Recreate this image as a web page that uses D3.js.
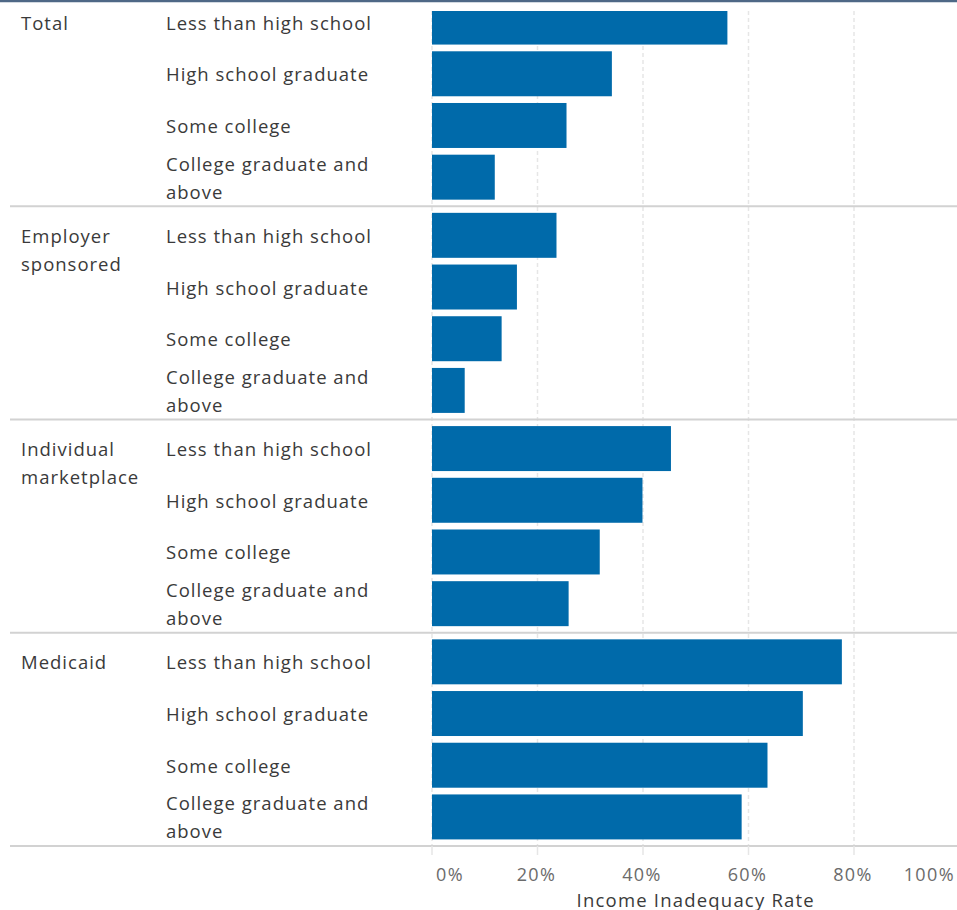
<!DOCTYPE html>
<html>
<head>
<meta charset="utf-8">
<script src="https://cdn.jsdelivr.net/npm/d3@7"></script>
<style>
  html, body { margin: 0; padding: 0; background: #fff; }
  svg { display: block; font-family: "Open Sans", "Noto Sans", sans-serif; }
</style>
</head>
<body>
<svg id="chart" width="957" height="910"></svg>
<script>
// Coverage groups, with label lines for wrapped names
const groups = ["Total", "Employer sponsored", "Individual marketplace", "Medicaid"];
const groupLines = [["Total"], ["Employer", "sponsored"], ["Individual", "marketplace"], ["Medicaid"]];

// Education levels, with label lines for wrapped names
const levels = ["Less than high school", "High school graduate", "Some college", "College graduate and above"];
const levelLines = [["Less than high school"], ["High school graduate"], ["Some college"], ["College graduate and", "above"]];

// Income inadequacy rate per group, in education-level order
const totalRates      = [0.560, 0.341, 0.255, 0.119];
const employerRates   = [0.236, 0.161, 0.132, 0.062];
const individualRates = [0.453, 0.399, 0.318, 0.259];
const medicaidRates   = [0.777, 0.703, 0.636, 0.587];

const xTicks = [0, 0.2, 0.4, 0.6, 0.8, 1.0];
const xTitle = "Income Inadequacy Rate";

const seriesByGroup = [totalRates, employerRates, individualRates, medicaidRates];
const rows = [];
groups.forEach((g, gi) => {
  levels.forEach((l, li) => rows.push({ group: g, level: l, value: seriesByGroup[gi][li] }));
});

const svg = d3.select("#chart");
const W = 957;

const plotTop = 11, plotBottom = 846;
const x = d3.scaleLinear().domain([0, 1]).range([432, 959.5]);
const yGroup = d3.scaleBand().domain(groups).range([-7, plotBottom]);
const yLevel = d3.scaleBand().domain(levels).range([0, yGroup.bandwidth()])
  .paddingInner(0.13).paddingOuter(0.1275);

const rowCenter = (g, l) => yGroup(g) + yLevel(l) + yLevel.bandwidth() / 2;

// Plot area clip
svg.append("defs").append("clipPath").attr("id", "plotClip")
  .append("rect").attr("x", 0).attr("y", plotTop).attr("width", W).attr("height", plotBottom - plotTop);

const plot = svg.append("g").attr("clip-path", "url(#plotClip)");

// Dashed vertical gridlines
plot.append("g").selectAll("line").data(xTicks.filter(t => x(t) < W))
  .join("line")
  .attr("x1", d => x(d)).attr("x2", d => x(d))
  .attr("y1", plotTop).attr("y2", plotBottom)
  .attr("stroke", "#e6e6e6").attr("stroke-width", 1.5)
  .attr("stroke-dasharray", "4,3");

// Bars
plot.append("g").selectAll("rect").data(rows)
  .join("rect")
  .attr("x", x(0))
  .attr("y", d => yGroup(d.group) + yLevel(d.level))
  .attr("width", d => x(d.value) - x(0))
  .attr("height", yLevel.bandwidth())
  .attr("fill", "#006aaa");

// Group separators
svg.append("g").selectAll("line").data(groups)
  .join("line")
  .attr("x1", 10).attr("x2", W)
  .attr("y1", g => yGroup(g) + yGroup.bandwidth())
  .attr("y2", g => yGroup(g) + yGroup.bandwidth())
  .attr("stroke", "#d2d2d2").attr("stroke-width", 2);

// Top border
svg.append("line").attr("x1", 0).attr("x2", W).attr("y1", 1).attr("y2", 1)
  .attr("stroke", "#4e6886").attr("stroke-width", 2.5);

const lineH = 28;
const textColor = "#3a3a3a";
const labelSize = 18.5, labelSpacing = 1.0;

// Group labels
const gl = svg.append("g").attr("font-size", labelSize).attr("fill", textColor).attr("letter-spacing", labelSpacing);
groups.forEach((g, gi) => {
  const cy = rowCenter(g, levels[0]);
  groupLines[gi].forEach((line, k) => {
    gl.append("text").attr("x", 21).attr("y", cy + k * lineH)
      .attr("dominant-baseline", "central").text(line);
  });
});

// Education level labels
const ll = svg.append("g").attr("font-size", labelSize).attr("fill", textColor).attr("letter-spacing", labelSpacing);
groups.forEach(g => {
  levels.forEach((l, li) => {
    const lines = levelLines[li];
    const cy = rowCenter(g, l) - (lines.length - 1) * lineH / 2;
    lines.forEach((line, k) => {
      ll.append("text").attr("x", 166).attr("y", cy + k * lineH)
        .attr("dominant-baseline", "central").text(line);
    });
  });
});

// X axis: small ticks and percentage labels
const axis = svg.append("g").attr("transform", `translate(0,${plotBottom})`);
axis.selectAll("line").data(xTicks.filter(t => x(t) < W))
  .join("line")
  .attr("x1", d => x(d)).attr("x2", d => x(d))
  .attr("y1", 0).attr("y2", 9)
  .attr("stroke", "#e6e6e6").attr("stroke-width", 1.5);

const fmt = d3.format(".0%");
axis.selectAll("text").data(xTicks)
  .join("text")
  .attr("x", (d, i) => i === 0 ? x(d) + 4 : i === xTicks.length - 1 ? W - 2 : x(d) - 1)
  .attr("y", 28)
  .attr("text-anchor", (d, i) => i === 0 ? "start" : i === xTicks.length - 1 ? "end" : "middle")
  .attr("dominant-baseline", "central")
  .attr("font-size", 18).attr("letter-spacing", 1.4).attr("fill", "#6b6b6b")
  .text(d => fmt(d));

svg.append("text")
  .attr("x", (x(0) + x(1)) / 2).attr("y", 899)
  .attr("text-anchor", "middle").attr("dominant-baseline", "central")
  .attr("font-size", 18.5).attr("letter-spacing", 1.2).attr("fill", textColor)
  .text(xTitle);
</script>
</body>
</html>
